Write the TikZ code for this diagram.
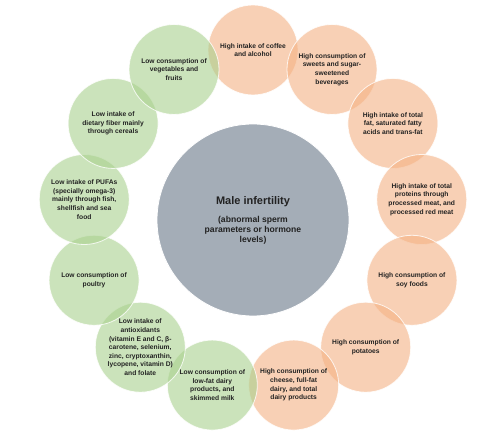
\documentclass[tikz,border=0pt]{standalone}
\usepackage{fontspec}
\setmainfont{Liberation Sans}
\definecolor{orng}{HTML}{F4B183}
\definecolor{grn}{HTML}{A9D18E}
\definecolor{ctr}{HTML}{A4ADB7}
\definecolor{txt}{HTML}{222222}
\tikzset{
  bub/.style={circle, minimum size=90pt, inner sep=0pt, draw=white, draw opacity=0.8, line width=0.8pt,
    fill opacity=0.6, text opacity=1, align=center,
    font=\fontsize{6.7}{8.6}\selectfont\bfseries, text=txt},
  hi/.style={bub, fill=orng},
  lo/.style={bub, fill=grn},
}
\begin{document}
\begin{tikzpicture}[x=1pt,y=1pt]
\useasboundingbox (0,0) rectangle (500,436);
\node[circle, minimum size=192pt, inner sep=0pt, fill=ctr, draw=white, line width=0.8pt, text=txt, align=center,
  font=\fontsize{8.6}{10}\selectfont\bfseries] (center) at (253,216)
  {{\fontsize{11}{13}\selectfont Male infertility}\\[8pt]
   (abnormal sperm\\parameters or hormone\\levels)};
\begin{scope}[shift={(253,216)}]
\def\st{27.6923}
\node[hi] (coffee)   at ({90-0*\st}:170pt) {High intake of coffee\\and alcohol};
\node[hi] (sweets)   at ({90-1*\st}:170pt) {High consumption of\\sweets and sugar-\\sweetened\\beverages};
\node[hi] (fat)      at ({90-2*\st}:170pt) {High intake of total\\fat, saturated fatty\\acids and trans-fat};
\node[hi] (protein)  at ({90-3*\st}:170pt) {High intake of total\\proteins through\\processed meat, and\\processed red meat};
\node[hi] (soy)      at ({90-4*\st}:170pt) {High consumption of\\soy foods};
\node[hi] (potato)   at ({90-5*\st}:170pt) {High consumption of\\potatoes};
\node[hi] (cheese)   at ({90-6*\st}:170pt) {High consumption of\\cheese, full-fat\\dairy, and total\\dairy products};
\node[lo] (lowfat)   at ({90-7*\st}:170pt) {Low consumption of\\low-fat dairy\\products, and\\skimmed milk};
\node[lo] (antiox)   at ({90-8*\st}:170pt) {Low intake of\\antioxidants\\(vitamin E and C, β-\\carotene, selenium,\\zinc, cryptoxanthin,\\lycopene, vitamin D)\\and folate};
\node[lo] (poultry)  at ({90-9*\st}:170pt) {Low consumption of\\poultry};
\node[lo] (pufa)     at ({90-10*\st}:170pt) {Low intake of PUFAs\\(specially omega-3)\\mainly through fish,\\shellfish and sea\\food};
\node[lo] (fiber)    at ({90-11*\st}:170pt) {Low intake of\\dietary fiber mainly\\through cereals};
\node[lo] (veg)      at ({90-12*\st}:170pt) {Low consumption of\\vegetables and\\fruits};
\end{scope}
\end{tikzpicture}
\end{document}
